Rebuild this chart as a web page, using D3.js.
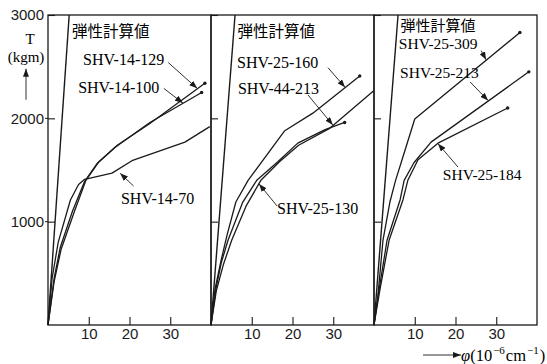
<!DOCTYPE html>
<html>
<head>
<meta charset="utf-8">
<script src="https://cdn.jsdelivr.net/npm/d3@7"></script>
<style>
  body { margin: 0; background: #fff; }
  svg { display: block; }
  .frame { fill: none; stroke: #1a1a1a; stroke-width: 1.3; }
  .curve { fill: none; stroke: #1a1a1a; stroke-width: 1.3; stroke-linejoin: round; }
  .elastic { fill: none; stroke: #1a1a1a; stroke-width: 1.4; }
  .lead { stroke: #1a1a1a; stroke-width: 0.9; }
  .axis path { display: none; }
  .axis line { stroke: #1a1a1a; stroke-width: 1.1; }
  .axis text { font-size: 15px; fill: #1a1a1a; }
</style>
</head>
<body>
<div id="container"></div>
<script>
// moment T (kgm) against curvature phi (10^-6 /cm), three test groups
var phiTicks = [10, 20, 30];
var torqueTicks = [1000, 2000, 3000];
var elasticLabel = "弾性計算値";
var elasticPhi = [5.2, 5.9, 5.9]; // phi where the elastic line meets T = 3000

// panel 1
var shv14_129 = [[0,0],[1.5,450],[3,750],[6,1100],[9,1390],[12,1560],[17,1740],[25,1950],[38.5,2340]];
var shv14_100 = [[0,0],[1.5,420],[3.2,730],[6.5,1100],[9.3,1400],[12.5,1580],[16.5,1720],[25,1960],[37.7,2250]];
var shv14_70  = [[0,0],[1,450],[2.5,800],[5.5,1210],[7.5,1360],[9,1410],[15.7,1470],[20.6,1590],[33.6,1770],[39.7,1920]];
// panel 2
var shv25_160 = [[0,0],[1,350],[2.5,630],[4,880],[6.1,1190],[9.1,1400],[18.1,1880],[25,2050],[36.5,2410]];
var shv44_213 = [[0,0],[1.2,350],[2.5,600],[4.2,823],[7.8,1190],[11.3,1404],[16.4,1580],[21.3,1760],[28,1890],[32.8,1960]];
var shv25_130 = [[0,0],[1.3,330],[3,580],[5.1,823],[8.6,1150],[12.3,1404],[16.8,1580],[21.5,1740],[29,1900],[40,2270]];
// panel 3
var shv25_309 = [[0,0],[1,300],[2.2,820],[3.9,1190],[5.3,1400],[7.4,1665],[10,1994],[35.8,2830]];
var shv25_213 = [[0,0],[1.2,330],[3.2,820],[6.4,1210],[7.4,1400],[9.8,1570],[14,1770],[38,2450]];
var shv25_184 = [[0,0],[1.4,330],[3.7,820],[7.1,1210],[8.3,1400],[10.8,1600],[15.7,1760],[32.8,2100]];

var panelSeries = [
    [shv14_129, shv14_100, shv14_70],
    [shv25_160, shv44_213, shv25_130],
    [shv25_309, shv25_213, shv25_184]
];
var openEnded = [shv14_70, shv25_130]; // these run into the frame, no end dot

var width = 547, height = 364;
var plotLeft = 48, plotTop = 15, plotBottom = 325;
var pw = 163;
var serif = "'Liberation Serif', serif";

var svg = d3.select("#container").append("svg")
    .attr("width", width).attr("height", height)
    .attr("viewBox", "0 0 " + width + " " + height);

svg.append("rect").attr("width", width).attr("height", height).attr("fill", "#fff");

var defs = svg.append("defs");
defs.append("marker")
    .attr("id", "head")
    .attr("markerUnits", "userSpaceOnUse")
    .attr("markerWidth", 8).attr("markerHeight", 6)
    .attr("refX", 8).attr("refY", 3)
    .attr("orient", "auto")
  .append("path").attr("d", "M0,0L8,3L0,6z").attr("fill", "#1a1a1a");

var y = d3.scaleLinear().domain([0, 3000]).range([plotBottom, plotTop]);

// leader labels, placed in data units of their own panel
var notes = [
    {p:0, text:"SHV-14-129", at:[8.6,2574], from:[29.5,2540], to:[36.6,2290]},
    {p:0, text:"SHV-14-100", at:[7.4,2303], from:[28.4,2290], to:[33.1,2148]},
    {p:0, text:"SHV-14-70",  at:[17.9,1229], from:[21.0,1345], to:[17.7,1468]},
    {p:1, text:"SHV-25-160", at:[6.4,2545], from:[28.7,2490], to:[32.9,2300]},
    {p:1, text:"SHV-44-213", at:[6.6,2294], from:[23.8,2226], to:[29.9,1935]},
    {p:1, text:"SHV-25-130", at:[16.2,1132], from:[16.2,1152], to:[11.8,1365]},
    {p:2, text:"SHV-25-309", at:[6.1,2719], from:[26.3,2655], to:[27.5,2566]},
    {p:2, text:"SHV-25-213", at:[6.4,2439], from:[23.6,2352], to:[28.0,2172]},
    {p:2, text:"SHV-25-184", at:[16.9,1452], from:[20.6,1529], to:[15.7,1755]}
];

var line = d3.line();

panelSeries.forEach(function(series, i) {
    var x0 = plotLeft + i * pw;
    var x = d3.scaleLinear().domain([0, 40]).range([x0, x0 + pw]);
    var g = svg.append("g");

    var toPx = function(d) { return [x(d[0]), y(d[1])]; };

    // elastic calculation line
    g.append("path").attr("class", "elastic")
        .attr("d", line([[0,0],[elasticPhi[i],3000]].map(toPx)));

    series.forEach(function(s) {
        g.append("path").attr("class", "curve").attr("d", line(s.map(toPx)));
        if (openEnded.indexOf(s) < 0) {
            var last = s[s.length - 1];
            g.append("circle").attr("cx", x(last[0])).attr("cy", y(last[1]))
                .attr("r", 1.7).attr("fill", "#1a1a1a");
        }
    });

    g.append("rect").attr("class", "frame")
        .attr("x", x0).attr("y", plotTop).attr("width", pw).attr("height", plotBottom - plotTop);

    g.append("g").attr("class", "axis")
        .attr("font-family", serif)
        .attr("transform", "translate(0," + plotBottom + ")")
        .call(d3.axisBottom(x).tickValues(phiTicks).tickSize(-8).tickPadding(3));

    g.append("g").attr("class", "axis")
        .attr("font-family", serif)
        .attr("transform", "translate(" + x0 + ",0)")
        .call(d3.axisLeft(y).tickValues(torqueTicks).tickSize(-7).tickPadding(4)
            .tickFormat(i == 0 ? d3.format("d") : ""));
    if (i == 0) {
        // short outer stub on the first axis
        torqueTicks.slice(0, 2).forEach(function(t) {
            g.append("line").attr("x1", x0 - 3).attr("x2", x0)
                .attr("y1", y(t)).attr("y2", y(t)).attr("stroke", "#1a1a1a");
        });
    }

    g.append("text")
        .attr("x", x(i == 0 ? 5.9 : 6.5)).attr("y", y(i == 2 ? 2894 : 2835))
        .attr("dy", "0.35em")
        .attr("font-family", "'Noto Sans CJK JP', sans-serif")
        .attr("font-size", i == 2 ? 15 : 15.5)
        .text(elasticLabel);

    notes.filter(function(n) { return n.p == i; }).forEach(function(n) {
        g.append("text").attr("x", x(n.at[0])).attr("y", y(n.at[1]))
            .attr("dy", "0.35em")
            .attr("font-family", serif)
            .attr("font-size", i == 2 ? 15.5 : 16)
            .text(n.text);
        g.append("line").attr("class", "lead")
            .attr("x1", x(n.from[0])).attr("y1", y(n.from[1]))
            .attr("x2", x(n.to[0])).attr("y2", y(n.to[1]))
            .attr("marker-end", "url(#head)");
    });
});

// y title
svg.append("text").attr("x", 30).attr("y", y(2770)).attr("dy", "0.35em")
    .attr("font-family", serif).attr("font-size", 15)
    .attr("text-anchor", "middle").text("T");
svg.append("text").attr("x", 26).attr("y", y(2600)).attr("dy", "0.35em")
    .attr("font-family", serif).attr("font-size", 15)
    .attr("text-anchor", "middle").text("(kgm)");
svg.append("line").attr("class", "lead")
    .attr("x1", 26).attr("x2", 26).attr("y1", y(2180)).attr("y2", y(2480))
    .attr("marker-end", "url(#head)");

// x title
svg.append("line").attr("class", "lead")
    .attr("x1", 423).attr("x2", 461).attr("y1", 355).attr("y2", 355)
    .attr("marker-end", "url(#head)");
var xt = svg.append("text").attr("x", 461).attr("y", 361)
    .attr("font-family", serif).attr("font-size", 16.5);
xt.append("tspan").attr("font-style", "italic").text("φ");
xt.append("tspan").text("(10");
xt.append("tspan").attr("dy", -7).attr("dx", 1).attr("font-size", 11).text("−6");
xt.append("tspan").attr("dy", 7).attr("dx", 1).text("cm");
xt.append("tspan").attr("dy", -7).attr("dx", 1).attr("font-size", 11).text("−1");
xt.append("tspan").attr("dy", 7).attr("dx", 1).text(")");
</script>
</body>
</html>
